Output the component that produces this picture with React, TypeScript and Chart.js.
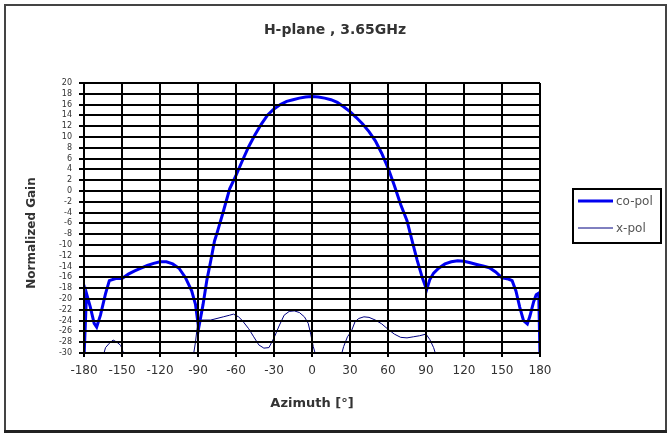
import React, { useEffect, useRef } from 'react';
import { Chart, registerables } from 'chart.js';

Chart.register(...registerables);

// Text
const chartTitle = 'H-plane , 3.65GHz';
const xAxisTitle = 'Azimuth [°]';
const yAxisTitle = 'Normalized Gain';
const coPolLabel = 'co-pol';
const xPolLabel = 'x-pol';

// Axis ranges (degrees / dB)
const azimuthMin = -180;
const azimuthMax = 180;
const azimuthStep = 30;
const gainMin = -30;
const gainMax = 20;
const gainStep = 2;

// Co-polar pattern
const coPolAzimuth = [
  -180, -178, -175, -172, -170, -167, -163, -160, -155, -150, -145, -140, -135, -130, -125, -120,
  -115, -110, -105, -100, -95, -92, -89.5, -86, -83, -80, -77, -75, -70, -65, -60, -55, -50, -45,
  -40, -35, -30, -25, -20, -15, -10, -5, 0, 5, 10, 15, 20, 25, 30, 35, 40, 45, 50, 55, 60, 65, 70,
  75, 79, 83, 87, 90.5, 93, 96, 100, 105, 110, 115, 120, 125, 130, 135, 140, 145, 150, 155, 158,
  161, 164, 167, 170, 172, 175, 177, 179, 180,
];
const coPolGain = [
  -31, -19, -21.5, -24.5, -25.2, -23, -19, -16.6, -16.2, -16.2, -15.4, -14.8, -14.3, -13.8, -13.4,
  -13.1, -13.1, -13.5, -14.3, -16, -18.5, -21, -25.4, -21, -16.5, -13, -9.3, -7.8, -3.8, 0.4, 2.9,
  5.6, 8.2, 10.4, 12.4, 14.1, 15.2, 16.0, 16.6, 16.9, 17.2, 17.4, 17.5, 17.4, 17.2, 16.9, 16.4,
  15.6, 14.7, 13.6, 12.4, 11.0, 9.3, 7.0, 4.3, 1.0, -2.5, -5.5, -9.2, -12.8, -16, -18.3, -16.4,
  -15.2, -14.3, -13.5, -13.1, -12.9, -13.0, -13.3, -13.6, -13.9, -14.2, -15.0, -16.1, -16.3,
  -16.6, -18.5, -21.5, -24.0, -24.6, -23.2, -20.5, -19.2, -18.9, -31,
];

// Cross-polar pattern (values below the axis floor run off the plot)
const xPolAzimuth = [
  -180, -170, -166, -163, -160, -157, -154, -151, -148, -145, -130, -110, -96, -94, -92, -90, -87,
  -80, -75, -70, -65, -62, -58, -55, -50, -46, -42, -38, -34, -30, -26, -22, -18, -14, -10, -6, -3,
  -1, 1, 3, 5, 12, 20, 23, 25, 28, 31, 34, 37, 41, 45, 50, 55, 60, 65, 70, 75, 80, 85, 90, 93, 96,
  98, 100, 120, 150, 180,
];
const xPolGain = [
  -33, -33, -31.5, -29, -28.2, -27.6, -28, -28.6, -30.5, -32, -33, -33, -32, -31, -28, -24, -23.9,
  -23.9, -23.6, -23.3, -23, -22.8, -23.3, -24, -25.5, -27, -28.5, -29.1, -29, -27.2, -25, -23,
  -22.3, -22.2, -22.5, -23.3, -24.5, -26.5, -28.8, -30.5, -32, -33, -32, -30.5, -28.8, -27, -26,
  -24.2, -23.6, -23.3, -23.4, -23.9, -24.6, -25.6, -26.5, -27.1, -27.2, -27, -26.8, -26.5, -27.5,
  -29, -30.5, -32, -33, -33, -33,
];

const coPolColor = '#0000f0';
const xPolColor = '#000080';
const textColor = '#333';

const toPoints = (xs: number[], ys: number[]) => xs.map((x, i) => ({ x, y: ys[i] }));

// Outer frame, title, vertical axis caption and boxed legend
const decorations = {
  id: 'decorations',
  afterDraw(chart: any) {
    const { ctx, width, height } = chart;
    ctx.save();

    ctx.strokeStyle = '#444';
    ctx.lineWidth = 2;
    ctx.strokeRect(5, 5, width - 6, height - 7);
    ctx.strokeStyle = '#222';
    ctx.lineWidth = 3;
    ctx.beginPath();
    ctx.moveTo(4, height - 1.5);
    ctx.lineTo(width, height - 1.5);
    ctx.stroke();

    ctx.fillStyle = textColor;
    ctx.font = 'bold 14px "DejaVu Sans"';
    ctx.textAlign = 'center';
    ctx.textBaseline = 'middle';
    ctx.fillText(chartTitle, 335, 30);

    ctx.save();
    ctx.translate(32, 233);
    ctx.rotate(-Math.PI / 2);
    ctx.font = 'bold 12px "DejaVu Sans"';
    ctx.fillText(yAxisTitle, 0, 0);
    ctx.restore();

    const bx = 573;
    const by = 189;
    ctx.strokeStyle = '#000';
    ctx.lineWidth = 2;
    ctx.strokeRect(bx, by, 88, 54);

    const rows = [201, 228];
    chart.data.datasets.forEach((ds: any, i: number) => {
      const y = rows[i];
      ctx.strokeStyle = ds.borderColor;
      ctx.lineWidth = ds.borderWidth;
      ctx.beginPath();
      ctx.moveTo(bx + 5, y);
      ctx.lineTo(bx + 40, y);
      ctx.stroke();
      ctx.fillStyle = '#555';
      ctx.font = '12px "DejaVu Sans"';
      ctx.textAlign = 'left';
      ctx.textBaseline = 'middle';
      ctx.fillText(ds.label, bx + 43, y + 1);
    });
    ctx.restore();
  },
};

export default function App() {
  const canvasRef = useRef<HTMLCanvasElement | null>(null);

  useEffect(() => {
    document.body.style.margin = '0';
    const canvas = canvasRef.current;
    if (!canvas) return;
    const chart = new Chart(canvas, {
      type: 'line',
      data: {
        datasets: [
          { label: coPolLabel, data: toPoints(coPolAzimuth, coPolGain), borderColor: coPolColor, borderWidth: 3, pointRadius: 0 },
          { label: xPolLabel, data: toPoints(xPolAzimuth, xPolGain), borderColor: xPolColor, borderWidth: 1, pointRadius: 0 },
        ],
      },
      options: {
        responsive: false,
        animation: false,
        layout: { padding: { left: 0, right: 127, top: 83, bottom: 0 } },
        plugins: { legend: { display: false } },
        scales: {
          x: {
            type: 'linear',
            min: azimuthMin,
            max: azimuthMax,
            afterFit: (scale: any) => { scale.height = 80; },
            ticks: { stepSize: azimuthStep, autoSkip: false, maxRotation: 0, padding: 7, color: textColor, font: { family: '"DejaVu Sans"', size: 12 } },
            grid: { color: '#000', lineWidth: 2, tickLength: 4, z: 1 },
            border: { color: '#000', width: 2, z: 1 },
            title: { display: true, text: xAxisTitle, color: textColor, font: { family: '"DejaVu Sans"', size: 13, weight: 'bold' }, padding: { top: 0, bottom: 22 } },
          },
          y: {
            type: 'linear',
            min: gainMin,
            max: gainMax,
            afterFit: (scale: any) => { scale.width = 84; },
            ticks: { stepSize: gainStep, autoSkip: false, padding: 7, color: textColor, font: { family: '"DejaVu Sans"', size: 8 } },
            grid: { color: '#000', lineWidth: 2, tickLength: 5, z: 1 },
            border: { color: '#000', width: 2, z: 1 },
          },
        },
      },
      plugins: [decorations],
    });
    return () => chart.destroy();
  }, []);

  return (
    <div style={{ width: 667, height: 433, background: '#fff' }}>
      <canvas ref={canvasRef} width={667} height={433} style={{ display: 'block' }} />
    </div>
  );
}
